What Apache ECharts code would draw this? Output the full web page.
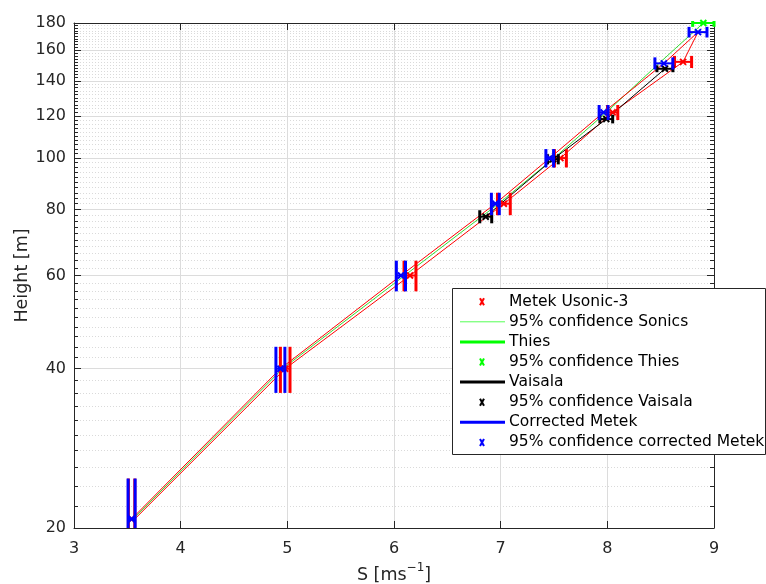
<!DOCTYPE html>
<html>
<head>
<meta charset="utf-8">
<script src="https://cdn.jsdelivr.net/npm/echarts@6/dist/echarts.min.js"></script>
<style>html,body{margin:0;padding:0;background:#fff}#c{width:766px;height:584px}</style>
</head>
<body>
<div id="c"></div>
<script>
// ---------- data ----------
// Metek Usonic-3 (red)
const metekS   = [3.54, 4.98, 6.15, 7.03, 7.56, 8.05, 8.71];
const metekH   = [20.8, 40, 60, 82, 100, 122, 152];
const metekErr = [0.03, 0.045, 0.056, 0.06, 0.056, 0.048, 0.08];
const metekDh  = 4;
// Corrected Metek (blue)
const corrS   = [3.54, 4.935, 6.065, 6.95, 7.46, 7.965, 8.53, 8.85];
const corrH   = [20.8, 40, 60, 82, 100, 122, 151, 173];
const corrErr = [0.033, 0.042, 0.043, 0.037, 0.036, 0.042, 0.084, 0.084];
const corrDh  = 4;
// Thies (green)
const thiesS   = [8.9];
const thiesH   = [180];
const thiesErr = [0.1];
const thiesDh  = 3;
// Vaisala (black)
const vaisS   = [6.86, 7.49, 7.99, 8.54];
const vaisH   = [77.5, 99.5, 118.5, 147.5];
const vaisErr = [0.056, 0.05, 0.06, 0.075];
const vaisDh  = 2.2;
// Sonic profile lines (red)
const sonicUpperS = [3.54, 4.935, 6.065, 6.95, 7.46, 7.965, 8.53, 8.85];
const sonicUpperH = [20.8, 40, 60, 82, 100, 122, 151, 173];
const sonicLowerS = [3.57, 4.98, 6.15, 7.03, 7.56, 8.05, 8.71, 8.85];
const sonicLowerH = [20.8, 40, 60, 82, 100, 122, 152, 173];
// 95% confidence Sonics (thin green)
const confSonicS = [3.555, 4.955, 6.1, 6.98, 7.5, 7.99, 8.5, 8.9];
const confSonicH = [20.8, 40, 60, 82, 100, 122, 152, 180];
// ticks
const xTicks = [3, 4, 5, 6, 7, 8, 9];
const yMajor = [20, 40, 60, 80, 100, 120, 140, 160, 180];
const yMinor = [22,24,26,28,30,32,34,36,38,42,44,46,48,50,52,54,56,58,62,64,66,68,70,72,74,76,78,
                82,84,86,88,90,92,94,96,98,102,104,106,108,110,112,114,116,118,122,124,126,128,130,
                132,134,136,138,142,144,146,148,150,152,154,156,158,162,164,166,168,170,172,174,176,178];
const legendNames = ['Metek Usonic-3','95% confidence Sonics','Thies','95% confidence Thies',
                     'Vaisala','95% confidence Vaisala','Corrected Metek','95% confidence corrected Metek'];

// ---------- chart ----------
const FONT = 'DejaVu Sans';
const AX = '#262626';
const chart = echarts.init(document.getElementById('c'), null, {renderer: 'canvas'});

function zip(s, h) { return s.map((v, i) => [v, h[i]]); }
function errData(s, h, e, dh) { return s.map((v, i) => [v, h[i], e[i], dh]); }

function errorBarRenderer(color) {
  return function (params, api) {
    const cs = params.coordSys;
    const s = api.value(0), h = api.value(1), e = api.value(2), dh = api.value(3);
    const c = api.coord([s, h]);
    const l = api.coord([s - e, h])[0];
    const r = api.coord([s + e, h])[0];
    let yt = api.coord([s, h + dh])[1];
    let yb = api.coord([s, h - dh])[1];
    yt = Math.max(yt, cs.y - 2);
    yb = Math.min(yb, cs.y + cs.height);
    const st = {stroke: color, lineWidth: 3};
    const st2 = {stroke: color, lineWidth: 2};
    const m = 3;
    return {type: 'group', children: [
      {type: 'line', shape: {x1: l, y1: yt, x2: l, y2: yb}, style: st},
      {type: 'line', shape: {x1: r, y1: yt, x2: r, y2: yb}, style: st},
      {type: 'line', shape: {x1: l, y1: c[1], x2: r, y2: c[1]}, style: st2},
      {type: 'line', shape: {x1: c[0]-m, y1: c[1]-m, x2: c[0]+m, y2: c[1]+m}, style: st2},
      {type: 'line', shape: {x1: c[0]-m, y1: c[1]+m, x2: c[0]+m, y2: c[1]-m}, style: st2}
    ]};
  };
}

function lineSeries(data, color, width, z) {
  return {type: 'line', data: data, symbol: 'none', xAxisIndex: 0, yAxisIndex: 0,
    lineStyle: {color: color, width: width}, silent: true, animation: false, z: z};
}
function errSeries(data, color, z) {
  return {type: 'custom', data: data, xAxisIndex: 0, yAxisIndex: 0,
    renderItem: errorBarRenderer(color), silent: true, animation: false, z: z, clip: false};
}

const yBase = {type: 'log', logBase: 10, min: 20, max: 180, axisLabel: {show: false},
  axisLine: {show: false}, splitLine: {show: false}, axisTick: {show: false}};

// legend graphics
const legX = 452, legY = 288, legW = 313, legH = 166, rowH = 20.1, row0 = 301.7;
const legendStyles = [
  {kind: 'marker', color: '#ff0000'},
  {kind: 'line', color: '#55ff55', width: 1},
  {kind: 'line', color: '#00ff00', width: 3},
  {kind: 'marker', color: '#00ff00'},
  {kind: 'line', color: '#000000', width: 3},
  {kind: 'marker', color: '#000000'},
  {kind: 'line', color: '#0000ff', width: 3},
  {kind: 'marker', color: '#0000ff'}
];
const legendGraphics = [{type: 'rect', shape: {x: legX + 0.5, y: legY + 0.5, width: legW, height: legH},
  style: {fill: '#ffffff', stroke: AX, lineWidth: 1}, z: 100}];
legendNames.forEach((name, i) => {
  const y = row0 + i * rowH;
  const st = legendStyles[i];
  if (st.kind === 'line') {
    legendGraphics.push({type: 'line', shape: {x1: 460, y1: y, x2: 505, y2: y},
      style: {stroke: st.color, lineWidth: st.width}, z: 101});
  } else {
    legendGraphics.push({type: 'line', shape: {x1: 480, y1: y - 3.5, x2: 484, y2: y + 3.5},
      style: {stroke: st.color, lineWidth: 2}, z: 101});
    legendGraphics.push({type: 'line', shape: {x1: 480, y1: y + 3.5, x2: 484, y2: y - 3.5},
      style: {stroke: st.color, lineWidth: 2}, z: 101});
  }
  legendGraphics.push({type: 'text', x: 509, y: y, z: 101,
    style: {text: name, font: '15.5px "DejaVu Sans"', fill: '#000', verticalAlign: 'middle'}});
});

const option = {
  animation: false,
  backgroundColor: '#ffffff',
  grid: {left: 74, right: 52, top: 23, bottom: 56, containLabel: false},
  xAxis: [
    {type: 'value', min: 3, max: 9, interval: 1, position: 'bottom',
     axisLine: {show: true, onZero: false, lineStyle: {color: AX, width: 1}},
     axisTick: {show: true, inside: true, length: 7, lineStyle: {color: AX}},
     axisLabel: {fontSize: 16, color: AX, fontFamily: FONT, margin: 13},
     splitLine: {show: true, lineStyle: {color: '#dcdcdc', width: 1}}},
    {type: 'value', min: 3, max: 9, interval: 1, position: 'top',
     axisLine: {show: true, onZero: false, lineStyle: {color: AX, width: 1}},
     axisTick: {show: true, inside: true, length: 7, lineStyle: {color: AX}},
     axisLabel: {show: false}, splitLine: {show: false}}
  ],
  yAxis: [
    Object.assign({}, yBase, {position: 'left',
      axisLine: {show: true, onZero: false, lineStyle: {color: AX, width: 1}},
      axisTick: {show: true, inside: true, length: 7, customValues: yMajor, lineStyle: {color: AX}},
      axisLabel: {show: true, customValues: yMajor, fontSize: 16, color: AX, fontFamily: FONT, margin: 8},
      splitLine: {show: true, lineStyle: {color: '#dcdcdc', width: 1}}}),
    Object.assign({}, yBase, {position: 'left',
      axisTick: {show: true, inside: true, length: 4, customValues: yMinor, lineStyle: {color: AX}},
      splitLine: {show: true, lineStyle: {color: '#dadada', width: 1, type: [1, 2]}}}),
    Object.assign({}, yBase, {position: 'right',
      axisLine: {show: true, onZero: false, lineStyle: {color: AX, width: 1}},
      axisTick: {show: true, inside: true, length: 7, customValues: yMajor, lineStyle: {color: AX}}}),
    Object.assign({}, yBase, {position: 'right',
      axisTick: {show: true, inside: true, length: 4, customValues: yMinor, lineStyle: {color: AX}}})
  ],
  graphic: [
    {type: 'text', x: 22, y: 275.5, rotation: Math.PI / 2, z: 50,
     style: {text: 'Height [m]', font: '17.5px "DejaVu Sans"', fill: AX, align: 'center', verticalAlign: 'middle'}},
    {type: 'text', x: 394, y: 573, z: 50,
     style: {text: '{a|S [ms}{b|−1}{a|]}', align: 'center', verticalAlign: 'middle',
       rich: {a: {fontFamily: FONT, fontSize: 17.5, fill: AX, color: AX, lineHeight: 22, verticalAlign: 'bottom'},
              b: {fontFamily: FONT, fontSize: 12, fill: AX, color: AX, lineHeight: 22, verticalAlign: 'top'}}}}
  ].concat(legendGraphics),
  series: [
    lineSeries(zip(sonicLowerS, sonicLowerH), '#ff0000', 1, 3),
    lineSeries(zip(confSonicS, confSonicH), '#33dd33', 1, 3),
    lineSeries(zip(sonicUpperS, sonicUpperH), '#ff0000', 1, 3),
    lineSeries(zip(vaisS, vaisH), '#000000', 1, 3),
    errSeries(errData(metekS, metekH, metekErr, metekDh), '#ff0000', 5),
    errSeries(errData(thiesS, thiesH, thiesErr, thiesDh), '#00ff00', 6),
    errSeries(errData(vaisS, vaisH, vaisErr, vaisDh), '#000000', 7),
    errSeries(errData(corrS, corrH, corrErr, corrDh), '#0000ff', 8)
  ]
};
chart.setOption(option);
</script>
</body>
</html>
